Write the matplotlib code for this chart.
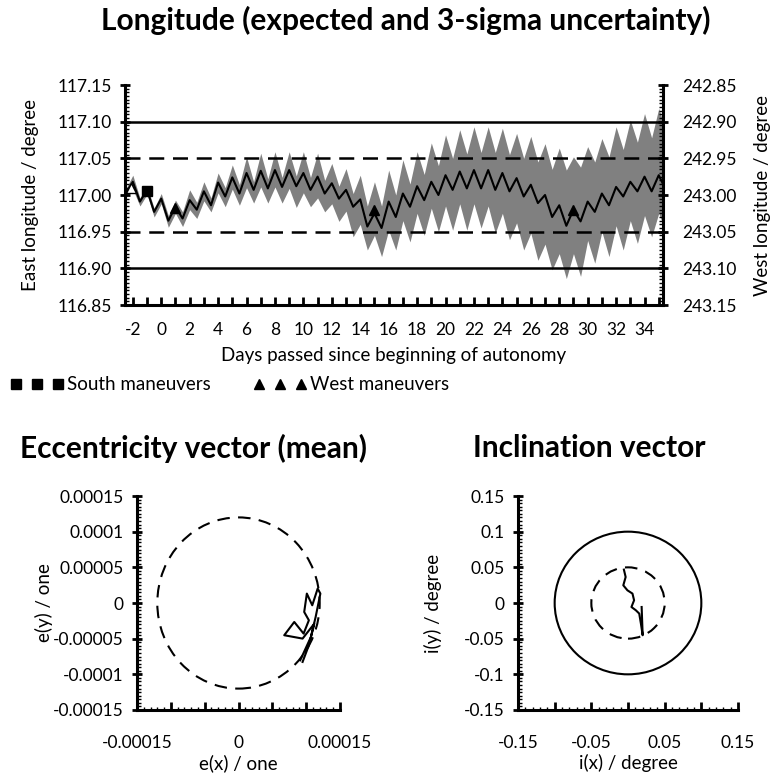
import matplotlib
matplotlib.use('Agg')
import matplotlib.pyplot as plt
import numpy as np
from matplotlib.patches import Circle
from matplotlib.lines import Line2D
from matplotlib.ticker import MultipleLocator, FuncFormatter

plt.rcParams['font.family'] = ['Lato', 'DejaVu Sans']

# longitude, sampled at the peaks / troughs of the daily oscillation
days = list(np.arange(-2.5, 35.01, 0.5)) + [35.3]
lon_mean = [117.002, 117.018, 116.991, 117.007, 116.977, 116.995, 116.965, 116.984,
            116.968, 116.993, 116.980, 117.005, 116.986, 117.017, 116.998, 117.024,
            117.002, 117.030, 117.007, 117.033, 117.009, 117.034, 117.011, 117.034,
            117.012, 117.030, 117.007, 117.025, 117.002, 117.016, 116.995, 117.007,
            116.984, 116.994, 116.957, 116.975, 116.955, 116.991, 116.970, 117.002,
            116.984, 117.012, 116.993, 117.018, 117.000, 117.027, 117.007, 117.032,
            117.009, 117.034, 117.009, 117.034, 117.007, 117.030, 117.005, 117.023,
            116.998, 117.014, 116.989, 117.000, 116.970, 116.986, 116.958, 116.980,
            116.964, 116.991, 116.977, 117.002, 116.986, 117.011, 116.998, 117.018,
            117.005, 117.025, 117.005, 117.027, 117.015]
lon_upper = [117.008, 117.027, 116.996, 117.012, 116.982, 117.002, 116.972, 116.993,
             116.977, 117.007, 116.990, 117.018, 116.996, 117.030, 117.010, 117.041,
             117.014, 117.052, 117.018, 117.057, 117.022, 117.059, 117.024, 117.059,
             117.026, 117.059, 117.024, 117.057, 117.020, 117.043, 117.012, 117.036,
             117.002, 117.027, 116.985, 117.018, 116.985, 117.034, 117.000, 117.048,
             117.015, 117.059, 117.028, 117.071, 117.040, 117.082, 117.050, 117.089,
             117.056, 117.093, 117.058, 117.093, 117.058, 117.091, 117.055, 117.084,
             117.050, 117.080, 117.045, 117.070, 117.035, 117.064, 117.034, 117.052,
             117.038, 117.066, 117.045, 117.077, 117.052, 117.093, 117.062, 117.102,
             117.072, 117.111, 117.078, 117.118, 117.100]
lon_lower = [116.996, 117.008, 116.985, 117.001, 116.970, 116.988, 116.956, 116.975,
             116.957, 116.980, 116.968, 116.992, 116.977, 117.003, 116.984, 117.008,
             116.986, 117.010, 116.989, 117.011, 116.989, 117.011, 116.989, 117.009,
             116.983, 117.003, 116.984, 116.996, 116.977, 116.988, 116.964, 116.978,
             116.943, 116.960, 116.925, 116.945, 116.916, 116.952, 116.925, 116.965,
             116.936, 116.975, 116.945, 116.982, 116.950, 116.985, 116.952, 116.988,
             116.952, 116.988, 116.955, 116.985, 116.948, 116.975, 116.939, 116.962,
             116.925, 116.948, 116.911, 116.933, 116.898, 116.920, 116.886, 116.920,
             116.889, 116.938, 116.907, 116.950, 116.916, 116.958, 116.925, 116.965,
             116.934, 116.972, 116.943, 116.975, 116.960]

south_days = [-1]
south_lon = [117.005]
west_days = [1, 15, 29]
west_lon = [116.982, 116.979, 116.979]
west_open_days = [-2.1]
west_open_lon = [117.010]

dead_band = [116.90, 117.10]
ctrl_band = [116.95, 117.05]

# eccentricity vector (mean)
ecc_x = [0.0000912, 0.000107, 0.000114, 0.000121, 0.000117, 0.000109, 0.000101, 0.0000971,
         0.000104, 0.0000962, 0.0000824, 0.0000676, 0.0000947, 0.000112, 0.000104, 0.0000947]
ecc_y = [-0.0000803, -0.0000476, -0.0000196, 0.0000132, 0.0000202, -0.0000032, 0.0000132, -0.0000126,
         -0.0000242, -0.0000429, -0.0000266, -0.0000452, -0.0000499, -0.0000289, -0.0000592, -0.0000826]
ecc_radius = 0.00012

# inclination vector
inc_x = [-0.0056, -0.0032, -0.0064, -0.0008, 0.0061, 0.0083, 0.0047, 0.0107, 0.0153, 0.0176, 0.0200, 0.0186]
inc_y = [0.0468, 0.0364, 0.0248, 0.0178, 0.0132, 0.0038, -0.0056, -0.0102, -0.0148, -0.0289, -0.0452, -0.0056]
inc_outer = 0.1
inc_inner = 0.05

TICK = 12.5
LABEL = 13.5
TITLE = 21.5


def short_num(v, pos=None):
    s = f"{v:.5f}".rstrip('0').rstrip('.')
    if s in ('-0', ''):
        s = '0'
    return s


fig = plt.figure(figsize=(7.81, 7.74), dpi=100)

# ---------- longitude ----------
ax = fig.add_axes([125/781, 1-305/774, 538/781, 220/774])
ax.fill_between(days, lon_lower, lon_upper, color='#808080', lw=0)
ax.plot(days, lon_mean, color='black', lw=1.5, solid_joinstyle='round')
for v in dead_band:
    ax.axhline(v, color='black', lw=1.8)
for v in ctrl_band:
    ax.axhline(v, color='black', lw=1.8, ls=(0, (6, 3.5)))
ax.plot(south_days, south_lon, 's', color='black', ms=7)
ax.plot(west_days, west_lon, '^', color='black', ms=7.5)
ax.plot(west_open_days, west_open_lon, '^', mfc='white', mec='black', ms=7.5)

ax.set_xlim(-2.55, 35.3)
ax.set_ylim(116.85, 117.15)
ax.xaxis.set_major_locator(MultipleLocator(2))
ax.xaxis.set_minor_locator(MultipleLocator(1))
ax.yaxis.set_major_locator(MultipleLocator(0.05))
ax.yaxis.set_minor_locator(MultipleLocator(0.005))
ax.yaxis.set_major_formatter(FuncFormatter(lambda v, p: f"{v:.2f}"))
ax.xaxis.set_major_formatter(FuncFormatter(lambda v, p: f"{v:.0f}"))
ax.tick_params(axis='x', which='both', direction='in', length=6, width=2, labelsize=TICK, pad=12)
ax.tick_params(axis='y', which='major', direction='inout', length=7, width=2, labelsize=TICK, pad=6)
ax.tick_params(axis='y', which='minor', direction='in', length=3, width=1)
for s in ['top', 'right']:
    ax.spines[s].set_visible(False)
for s in ['left', 'bottom']:
    ax.spines[s].set_linewidth(2.2)
ax.set_xlabel("Days passed since beginning of autonomy", fontsize=LABEL, labelpad=7)
ax.set_ylabel("East longitude / degree", fontsize=LABEL, labelpad=13)

ax2 = ax.twinx()
ax2.set_ylim(360 - 116.85, 360 - 117.15)
ax2.yaxis.set_major_locator(MultipleLocator(0.05))
ax2.yaxis.set_minor_locator(MultipleLocator(0.005))
ax2.yaxis.set_major_formatter(FuncFormatter(lambda v, p: f"{v:.2f}"))
ax2.tick_params(axis='y', which='major', direction='inout', length=7, width=2, labelsize=TICK, pad=10)
ax2.tick_params(axis='y', which='minor', direction='in', length=3, width=1)
for s in ['top', 'left', 'bottom']:
    ax2.spines[s].set_visible(False)
ax2.spines['right'].set_linewidth(2.2)
ax2.set_ylabel("West longitude / degree", fontsize=LABEL, labelpad=13)

fig.text(406/781, 1-20/774, "Longitude (expected and 3-sigma uncertainty)",
         ha='center', va='center', fontsize=TITLE, fontweight='bold')

handles = [Line2D([], [], ls='none', marker='s', color='black', ms=7),
           Line2D([], [], ls='none', marker='^', color='black', ms=7.5)]
fig.legend(handles, ["South maneuvers", "West maneuvers"], loc='center left',
           bbox_to_anchor=(5/781, 1-385/774), ncol=2, frameon=False, numpoints=3,
           handlelength=2.8, handletextpad=0.2, columnspacing=2.3, fontsize=LABEL,
           borderaxespad=0, borderpad=0.3)


def vector_panel(rect, lim, major, minor, xlabels, xlabel, ylabel, ylabelpad, title, title_x):
    a = fig.add_axes(rect)
    a.set_xlim(-lim, lim)
    a.set_ylim(-lim, lim)
    a.xaxis.set_major_locator(MultipleLocator(major))
    a.xaxis.set_minor_locator(MultipleLocator(major / 5))
    a.yaxis.set_major_locator(MultipleLocator(major))
    a.yaxis.set_minor_locator(MultipleLocator(minor))
    a.yaxis.set_major_formatter(FuncFormatter(short_num))
    a.xaxis.set_major_formatter(FuncFormatter(
        lambda v, p: short_num(v) if any(abs(v - t) < major * 1e-3 for t in xlabels) else ''))
    a.tick_params(axis='x', which='major', direction='in', length=6, width=2, labelsize=TICK, pad=18)
    a.tick_params(axis='x', which='minor', direction='in', length=2.5, width=1)
    a.tick_params(axis='y', which='major', direction='inout', length=7, width=2, labelsize=TICK, pad=6)
    a.tick_params(axis='y', which='minor', direction='in', length=3, width=1)
    for s in ['top', 'right']:
        a.spines[s].set_visible(False)
    for s in ['left', 'bottom']:
        a.spines[s].set_linewidth(2.2)
    a.set_xlabel(xlabel, fontsize=LABEL, labelpad=2)
    a.set_ylabel(ylabel, fontsize=LABEL, labelpad=ylabelpad)
    fig.text(title_x, 1-448/774, title, ha='center', va='center', fontsize=TITLE, fontweight='bold')
    return a


axe = vector_panel([137/781, 1-710/774, 203/781, 214/774], 0.00015, 0.00005, 0.000005,
                   [-0.00015, 0, 0.00015], "e(x) / one", "e(y) / one", 0,
                   "Eccentricity vector (mean)", 193/781)
axe.add_patch(Circle((0, 0), ecc_radius, fill=False, color='black', lw=1.5, ls=(0, (6, 4))))
axe.plot(ecc_x, ecc_y, color='black', lw=1.5)

axi = vector_panel([518/781, 1-710/774, 220/781, 214/774], 0.15, 0.05, 0.005,
                   [-0.15, -0.05, 0.05, 0.15], "i(x) / degree", "i(y) / degree", 16,
                   "Inclination vector", 589/781)
axi.add_patch(Circle((0, 0), inc_outer, fill=False, color='black', lw=1.5))
axi.add_patch(Circle((0, 0), inc_inner, fill=False, color='black', lw=1.5, ls=(0, (6, 4))))
axi.plot(inc_x, inc_y, color='black', lw=1.5)

fig.savefig('out.png', dpi=100, facecolor='white')
